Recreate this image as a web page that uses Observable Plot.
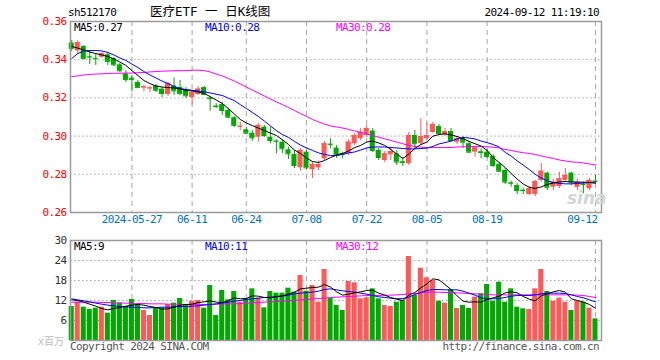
<!DOCTYPE html>
<html><head><meta charset="utf-8">
<script src="https://cdn.jsdelivr.net/npm/d3@7"></script>
<script src="https://cdn.jsdelivr.net/npm/@observablehq/plot@0.6"></script>
<style>
body{margin:0;background:#fff;}
#c{position:relative;width:660px;height:360px;overflow:hidden;font-family:"DejaVu Sans Mono",monospace;font-size:11px;letter-spacing:-0.6px;}
.t{position:absolute;white-space:nowrap;line-height:11px;}
#c svg{position:absolute;left:0;}
</style></head><body><div id="c"></div>
<script>
const dates = ["2024-05-13","2024-05-14","2024-05-15","2024-05-16","2024-05-17","2024-05-20","2024-05-21","2024-05-22","2024-05-23","2024-05-24",
"2024-05-27","2024-05-28","2024-05-29","2024-05-30","2024-05-31","2024-06-03","2024-06-04","2024-06-05","2024-06-06","2024-06-07",
"2024-06-11","2024-06-12","2024-06-13","2024-06-14","2024-06-17","2024-06-18","2024-06-19","2024-06-20","2024-06-21","2024-06-24",
"2024-06-25","2024-06-26","2024-06-27","2024-06-28","2024-07-01","2024-07-02","2024-07-03","2024-07-04","2024-07-05","2024-07-08",
"2024-07-09","2024-07-10","2024-07-11","2024-07-12","2024-07-15","2024-07-16","2024-07-17","2024-07-18","2024-07-19","2024-07-22",
"2024-07-23","2024-07-24","2024-07-25","2024-07-26","2024-07-29","2024-07-30","2024-07-31","2024-08-01","2024-08-02","2024-08-05",
"2024-08-06","2024-08-07","2024-08-08","2024-08-09","2024-08-12","2024-08-13","2024-08-14","2024-08-15","2024-08-16","2024-08-19",
"2024-08-20","2024-08-21","2024-08-22","2024-08-23","2024-08-26","2024-08-27","2024-08-28","2024-08-29","2024-08-30","2024-09-02",
"2024-09-03","2024-09-04","2024-09-05","2024-09-06","2024-09-09","2024-09-10","2024-09-11","2024-09-12"];
const open = [0.3487,0.3446,0.3469,0.3417,0.3407,0.3413,0.3426,0.3405,0.3373,0.3326,
0.3303,0.3281,0.3252,0.3248,0.3263,0.3246,0.3218,0.3262,0.3255,0.3240,
0.3202,0.3218,0.3254,0.3200,0.3157,0.3165,0.3134,0.3096,0.3048,0.3033,
0.3015,0.2994,0.3047,0.2994,0.2975,0.2968,0.2928,0.2904,0.2834,0.2916,
0.2824,0.2834,0.2881,0.2958,0.2937,0.2909,0.2907,0.2960,0.2986,0.3003,
0.3026,0.2925,0.2872,0.2902,0.2907,0.2866,0.2855,0.3003,0.2961,0.2987,
0.3019,0.3050,0.3007,0.3024,0.2968,0.2986,0.2960,0.2916,0.2918,0.2916,
0.2893,0.2851,0.2820,0.2756,0.2741,0.2717,0.2694,0.2694,0.2768,0.2806,
0.2732,0.2736,0.2768,0.2806,0.2732,0.2748,0.2724,0.2765];
const high = [0.3500,0.3500,0.3474,0.3448,0.3432,0.3438,0.3438,0.3412,0.3380,0.3343,
0.3313,0.3291,0.3267,0.3261,0.3270,0.3254,0.3280,0.3305,0.3291,0.3254,
0.3239,0.3260,0.3260,0.3204,0.3170,0.3176,0.3145,0.3103,0.3073,0.3047,
0.3029,0.3066,0.3056,0.3047,0.2981,0.2981,0.2942,0.2925,0.2935,0.2925,
0.2862,0.2869,0.2972,0.2986,0.2951,0.2916,0.2982,0.3014,0.3040,0.3055,
0.3040,0.2935,0.2919,0.2935,0.2925,0.2888,0.3019,0.3030,0.3092,0.3071,
0.3071,0.3061,0.3040,0.3040,0.2998,0.2998,0.2972,0.2944,0.2933,0.2930,
0.2904,0.2862,0.2830,0.2764,0.2752,0.2727,0.2736,0.2768,0.2857,0.2811,
0.2773,0.2811,0.2830,0.2811,0.2773,0.2759,0.2778,0.2794];
const low = [0.3443,0.3427,0.3404,0.3375,0.3370,0.3406,0.3370,0.3364,0.3333,0.3281,
0.3230,0.3249,0.3232,0.3228,0.3228,0.3202,0.3207,0.3213,0.3213,0.3197,
0.3162,0.3213,0.3213,0.3130,0.3145,0.3108,0.3092,0.3045,0.3029,0.3013,
0.2973,0.2968,0.2993,0.2960,0.2907,0.2909,0.2877,0.2830,0.2816,0.2825,
0.2778,0.2820,0.2872,0.2933,0.2883,0.2881,0.2898,0.2951,0.2977,0.2993,
0.2914,0.2872,0.2862,0.2872,0.2846,0.2841,0.2846,0.2935,0.2951,0.2977,
0.3014,0.3003,0.2998,0.2966,0.2956,0.2935,0.2909,0.2890,0.2881,0.2883,
0.2836,0.2809,0.2747,0.2733,0.2694,0.2694,0.2689,0.2684,0.2759,0.2715,
0.2715,0.2725,0.2759,0.2741,0.2715,0.2698,0.2715,0.2753];
const close = [0.3459,0.3490,0.3406,0.3414,0.3405,0.3431,0.3391,0.3373,0.3342,0.3296,
0.3297,0.3255,0.3258,0.3252,0.3240,0.3223,0.3275,0.3237,0.3222,0.3211,
0.3228,0.3246,0.3218,0.3196,0.3155,0.3134,0.3099,0.3056,0.3052,0.3015,
0.2991,0.3056,0.3003,0.2977,0.2973,0.2934,0.2907,0.2846,0.2925,0.2834,
0.2851,0.2851,0.2960,0.2955,0.2902,0.2905,0.2968,0.3003,0.3020,0.3040,
0.2925,0.2888,0.2907,0.2919,0.2864,0.2861,0.3003,0.2960,0.2998,0.3003,
0.3061,0.3014,0.3024,0.2977,0.2986,0.2968,0.2916,0.2939,0.2914,0.2893,
0.2846,0.2816,0.2759,0.2753,0.2715,0.2715,0.2724,0.2762,0.2816,0.2732,
0.2759,0.2776,0.2794,0.2759,0.2759,0.2746,0.2768,0.2763];
const volume = [10.2,11.5,10.0,9.3,9.7,10.0,8.2,12.0,11.2,10.2,
12.3,10.8,9.0,7.5,9.8,9.8,10.8,11.2,12.6,10.5,
11.8,12.0,9.7,16.5,7.5,15.0,12.2,14.7,11.5,12.5,
15.5,12.7,9.8,14.7,14.2,14.2,15.7,14.5,19.5,14.8,
16.5,11.5,21.3,12.6,10.5,9.0,17.7,17.3,12.5,12.8,
15.5,12.5,10.5,10.2,11.5,12.0,25.2,13.5,21.7,18.8,
18.0,11.8,11.2,15.2,9.6,10.5,9.6,13.0,14.0,16.8,
11.8,17.5,11.5,15.5,10.0,9.5,9.3,15.5,21.3,14.7,
11.8,12.7,11.5,9.0,11.8,11.5,9.7,6.5];
const ma5 = [0.3469,0.3461,0.3451,0.3440,0.3432,0.3425,0.3417,0.3404,0.3388,0.3370,
0.3343,0.3317,0.3291,0.3275,0.3262,0.3257,0.3254,0.3252,0.3247,0.3239,
0.3236,0.3231,0.3223,0.3207,0.3189,0.3171,0.3145,0.3116,0.3087,0.3069,
0.3055,0.3042,0.3029,0.3016,0.3003,0.2981,0.2956,0.2927,0.2909,0.2885,
0.2867,0.2862,0.2872,0.2888,0.2901,0.2909,0.2922,0.2940,0.2951,0.2969,
0.2974,0.2964,0.2951,0.2930,0.2906,0.2883,0.2906,0.2935,0.2956,0.2968,
0.3000,0.3008,0.3012,0.3006,0.2998,0.2987,0.2972,0.2960,0.2948,0.2925,
0.2888,0.2862,0.2836,0.2804,0.2775,0.2749,0.2732,0.2726,0.2734,0.2747,
0.2754,0.2760,0.2762,0.2760,0.2759,0.2759,0.2757,0.2753];
const ma10 = [0.3406,0.3432,0.3446,0.3448,0.3448,0.3446,0.3438,0.3425,0.3409,0.3396,
0.3377,0.3359,0.3338,0.3320,0.3304,0.3288,0.3275,0.3260,0.3249,0.3244,
0.3240,0.3236,0.3232,0.3226,0.3219,0.3213,0.3199,0.3186,0.3165,0.3145,
0.3124,0.3103,0.3079,0.3053,0.3029,0.3008,0.2993,0.2972,0.2953,0.2938,
0.2925,0.2912,0.2904,0.2898,0.2898,0.2904,0.2912,0.2917,0.2927,0.2938,
0.2943,0.2943,0.2943,0.2940,0.2938,0.2935,0.2933,0.2933,0.2935,0.2937,
0.2946,0.2959,0.2966,0.2974,0.2985,0.2993,0.2990,0.2985,0.2974,0.2966,
0.2956,0.2943,0.2915,0.2895,0.2870,0.2848,0.2825,0.2800,0.2780,0.2766,
0.2757,0.2752,0.2750,0.2750,0.2752,0.2754,0.2757,0.2759];
const ma30 = [0.3312,0.3315,0.3320,0.3323,0.3325,0.3326,0.3328,0.3329,0.3329,0.3330,
0.3330,0.3332,0.3333,0.3336,0.3338,0.3340,0.3341,0.3342,0.3342,0.3343,
0.3345,0.3345,0.3343,0.3336,0.3325,0.3315,0.3302,0.3288,0.3273,0.3257,
0.3241,0.3226,0.3210,0.3194,0.3179,0.3165,0.3150,0.3134,0.3118,0.3103,
0.3087,0.3074,0.3063,0.3053,0.3048,0.3042,0.3035,0.3027,0.3019,0.3011,
0.3003,0.2994,0.2986,0.2977,0.2968,0.2960,0.2951,0.2946,0.2942,0.2940,
0.2940,0.2940,0.2940,0.2940,0.2943,0.2944,0.2946,0.2946,0.2946,0.2944,
0.2942,0.2938,0.2930,0.2925,0.2918,0.2913,0.2909,0.2904,0.2896,0.2889,
0.2883,0.2875,0.2870,0.2865,0.2863,0.2859,0.2854,0.2849];
const vma5 = [12.2,12.0,11.5,10.9,10.3,9.6,9.2,9.6,9.9,10.3,
10.6,10.8,10.6,10.2,9.9,9.4,9.5,10.0,10.6,10.8,
10.9,11.4,11.6,11.9,11.5,11.4,11.9,12.8,12.5,12.6,
13.4,13.3,12.9,12.8,13.2,13.4,13.9,14.5,15.5,15.7,
15.9,16.0,16.8,16.0,14.6,13.6,13.9,14.3,14.6,15.0,
15.1,14.2,13.6,12.9,12.4,12.0,13.6,14.4,15.8,17.0,
18.5,18.2,16.8,15.3,13.4,11.8,11.5,11.6,11.5,12.3,
12.8,13.3,14.3,14.6,14.3,13.2,12.4,11.9,13.4,14.0,
14.6,15.0,14.5,12.5,12.0,11.5,10.8,9.7];
const vma10 = [12.5,12.2,11.9,11.6,11.2,10.9,10.6,10.4,10.2,10.1,
10.0,9.9,9.8,9.8,9.9,10.0,10.0,10.1,10.2,10.2,
10.3,10.4,10.6,10.8,11.0,11.2,11.5,11.8,12.0,12.3,
12.5,12.7,12.9,13.0,13.1,13.3,13.6,14.0,14.2,14.4,
14.5,14.8,15.3,15.5,15.2,14.9,14.7,14.5,14.2,13.9,
13.5,13.1,12.9,12.7,12.5,12.6,13.0,13.8,14.4,15.0,
15.3,15.3,15.2,15.2,15.2,14.8,14.2,13.6,12.8,12.5,
12.5,12.6,12.9,13.3,13.5,13.5,13.5,13.7,14.0,14.2,
14.2,14.2,14.1,13.7,13.2,12.8,12.2,11.6];
const vma30 = [11.5,11.5,11.5,11.5,11.5,11.4,11.4,11.3,11.3,11.2,
11.2,11.1,11.1,11.0,11.0,11.0,10.9,10.9,10.8,10.8,
10.8,10.8,10.8,10.8,10.9,10.9,11.0,11.0,11.1,11.2,
11.3,11.4,11.5,11.6,11.7,11.8,11.9,12.0,12.2,12.3,
12.5,12.6,12.7,12.9,13.0,13.1,13.2,13.3,13.4,13.5,
13.5,13.5,13.6,13.6,13.7,13.8,14.0,14.1,14.3,14.5,
14.5,14.5,14.4,14.4,14.3,14.2,14.1,14.0,13.9,13.8,
13.7,13.7,13.7,13.7,13.7,13.7,13.7,13.7,13.7,13.7,
13.7,13.7,13.7,13.7,13.6,13.5,13.2,12.9];
const priceTicks = [0.26, 0.28, 0.30, 0.32, 0.34, 0.36];
const volTicks = [6, 12, 18, 24, 30];
const dateTicks = ["2024-05-27","2024-06-11","2024-06-24","2024-07-08","2024-07-22","2024-08-05","2024-08-19","2024-09-12"];
const dateTickLabels = ["2024-05-27","06-11","06-24","07-08","07-22","08-05","08-19","09-12"];
const legendPrice = ["MA5:0.27", "MA10:0.28", "MA30:0.28"];
const legendVol = ["MA5:9", "MA10:11", "MA30:12"];

const RED = "#ff5858", GREEN = "#00a800";
const rows = dates.map((date, i) => ({i, date, open: open[i], high: high[i], low: low[i], close: close[i],
  volume: volume[i], ma5: ma5[i], ma10: ma10[i], ma30: ma30[i], vma5: vma5[i], vma10: vma10[i], vma30: vma30[i]}));
const col = d => d.close >= d.open ? RED : GREEN;
const tickRows = dateTicks.map((d, k) => ({i: dates.indexOf(d), label: dateTickLabels[k]}));
const half = 0.42;
const xOpt = {type: "linear", domain: [-0.2, dates.length], axis: null};
const style = {fontFamily: "'DejaVu Sans Mono', monospace", fontSize: "11px", background: "transparent", letterSpacing: "-0.6px"};
const GRID = "#a6a6a6";
const lineOpt = (y, stroke) => ({x: "i", y, stroke, strokeWidth: 1, strokeLinejoin: "miter"});

const price = Plot.plot({
  width: 660, height: 232, marginLeft: 70, marginRight: 59, marginTop: 21, marginBottom: 20,
  style, x: xOpt, y: {domain: [0.26, 0.36], axis: null}, color: {type: "identity"},
  marks: [
    Plot.ruleY(priceTicks.slice(1, -1), {stroke: GRID, strokeDasharray: "1.5,2.5"}),
    Plot.ruleX(tickRows, {x: "i", stroke: GRID, strokeDasharray: "5,4"}),
    Plot.ruleX(rows, {x: "i", y1: "low", y2: "high", stroke: col}),
    Plot.rect(rows, {x1: d => d.i - half, x2: d => d.i + half, y1: "open", y2: "close", fill: col}),
    Plot.ruleY(rows, {y: "close", x1: d => d.i - half, x2: d => d.i + half, stroke: col}),
    Plot.line(rows, lineOpt("ma30", "#ff00ff")),
    Plot.line(rows, lineOpt("ma10", "#0000ff")),
    Plot.line(rows, lineOpt("ma5", "#000000")),
    Plot.frame({stroke: "#9a9a9a", strokeWidth: 1.5}),
    Plot.text(priceTicks, {y: d => d, text: d => d.toFixed(2), frameAnchor: "left", dx: -4, textAnchor: "end", fill: "#ff0000"}),
    Plot.text(tickRows.slice(0, -1), {x: "i", text: "label", frameAnchor: "bottom", dy: 10, fill: "#0070c0"}),
    Plot.text(tickRows.slice(-1), {x: "i", text: "label", frameAnchor: "bottom", dy: 10, textAnchor: "end", dx: 2, fill: "#0070c0"})
  ]
});
price.style.top = "0px";

const vol = Plot.plot({
  width: 660, height: 124, marginLeft: 70, marginRight: 59, marginTop: 10, marginBottom: 14,
  style, x: xOpt, y: {domain: [0, 30], axis: null}, color: {type: "identity"},
  marks: [
    Plot.ruleY(volTicks.slice(0, -1), {stroke: GRID, strokeDasharray: "1.5,2.5"}),
    Plot.ruleX(tickRows, {x: "i", stroke: GRID, strokeDasharray: "5,4"}),
    Plot.rectY(rows, {x1: d => d.i - half, x2: d => d.i + half, y: "volume", fill: col}),
    Plot.line(rows, lineOpt("vma30", "#ff00ff")),
    Plot.line(rows, lineOpt("vma10", "#0000ff")),
    Plot.line(rows, lineOpt("vma5", "#000000")),
    Plot.frame({stroke: "#9a9a9a", strokeWidth: 1.5}),
    Plot.text(volTicks, {y: d => d, text: d => String(d), frameAnchor: "left", dx: -4, textAnchor: "end", fill: "#333"})
  ]
});
vol.style.top = "230px";

const c = document.getElementById("c");
c.appendChild(price);
c.appendChild(vol);
function txt(s, css) {
  const e = document.createElement("div");
  e.className = "t"; e.textContent = s;
  Object.assign(e.style, css);
  c.appendChild(e);
  return e;
}
txt("sh512170", {left: "68px", top: "7px", color: "#000"});
txt("医疗ETF 一 日K线图", {left: "150px", top: "5px", color: "#000", fontSize: "12.5px", lineHeight: "13px", letterSpacing: "0px", fontFamily: "'DejaVu Sans Mono','Noto Sans CJK SC',monospace"});
txt("2024-09-12 11:19:10", {right: "61px", top: "7px", color: "#000"});
const lc = ["#000000", "#0000ff", "#ff00ff"], lx = [74, 205, 336];
legendPrice.forEach((s, k) => txt(s, {left: lx[k] + "px", top: "22px", color: lc[k]}));
legendVol.forEach((s, k) => txt(s, {left: lx[k] + "px", top: "241px", color: lc[k]}));
txt("Copyright 2024 SINA.COM", {left: "70px", top: "341px", color: "#555"});
txt("http://finance.sina.com.cn", {right: "61px", top: "341px", color: "#555"});
txt("x百万", {left: "38px", top: "336px", color: "#bbb", fontSize: "10px", letterSpacing: "0px", fontFamily: "'DejaVu Sans Mono','Noto Sans CJK SC',monospace"});
txt("sina", {left: "567px", top: "190px", color: "#d4d4d4", fontSize: "17px", lineHeight: "17px", fontWeight: "bold", fontStyle: "italic", letterSpacing: "0px", fontFamily: "'DejaVu Sans',sans-serif"});
</script></body></html>
